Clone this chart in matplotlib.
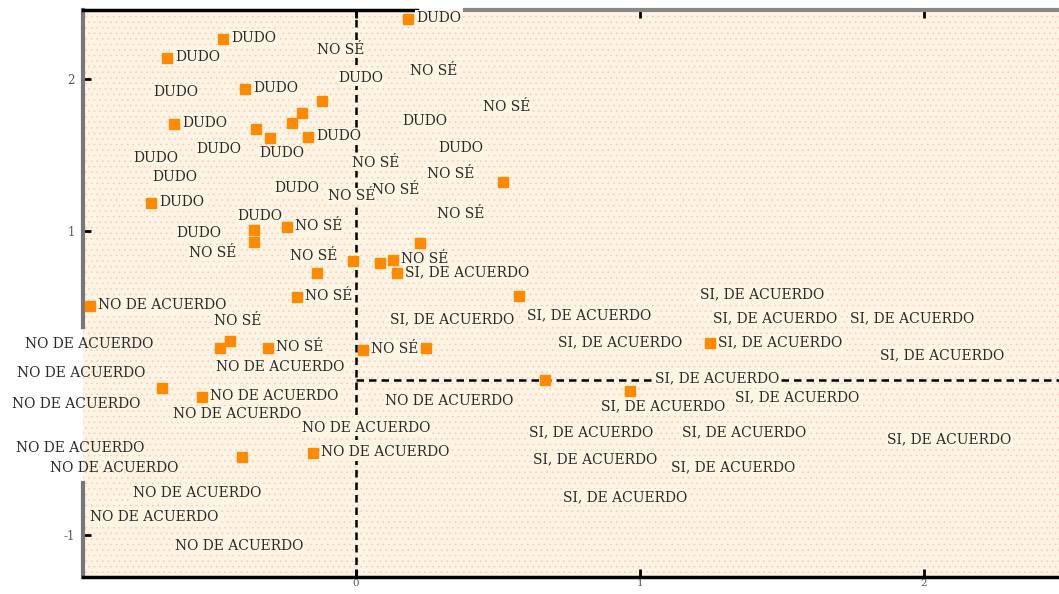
import matplotlib
matplotlib.use("Agg")
import matplotlib.pyplot as plt
from matplotlib.patches import Rectangle

# ---- data: points shown with a marker (x, y, label) ----
mk_x = [0.183, -0.468, -0.665, -0.391, -0.120, -0.190, -0.225, -0.641, -0.352, -0.303,
        -0.169, 0.518, -0.722, -0.359, -0.359, -0.243, 0.225, -0.011, 0.085, 0.130,
        0.144, -0.137, 0.574, -0.208, -0.937, -0.444, -0.479, -0.310, 0.025, 0.246,
        1.246, 0.665, 0.965, -0.683, -0.542, -0.401, -0.151]
mk_y = [2.395, 2.263, 2.138, 1.934, 1.855, 1.776, 1.711, 1.704, 1.671, 1.612,
        1.618, 1.322, 1.184, 1.007, 0.928, 1.026, 0.921, 0.803, 0.789, 0.809,
        0.724, 0.724, 0.572, 0.566, 0.507, 0.276, 0.230, 0.230, 0.217, 0.230,
        0.263, 0.020, -0.053, -0.033, -0.092, -0.487, -0.461]
mk_lab = ["DUDO", "DUDO", "DUDO", "DUDO", "", "", "", "DUDO", "", "",
          "DUDO", "", "DUDO", "", "", "NO SÉ", "", "", "", "NO SÉ",
          "SI, DE ACUERDO", "", "", "NO SÉ", "NO DE ACUERDO", "", "", "NO SÉ", "NO SÉ", "",
          "SI, DE ACUERDO", "", "", "", "NO DE ACUERDO", "", "NO DE ACUERDO"]

# ---- data: labels without a visible marker ----
dudo_x = [-0.715, -0.785, -0.718, -0.563, -0.342, -0.289, -0.063, 0.162, 0.289, -0.419, -0.634]
dudo_y = [1.914, 1.480, 1.355, 1.539, 1.513, 1.283, 2.007, 1.724, 1.546, 1.099, 0.987]

nose_x = [-0.137, 0.190, 0.447, -0.014, 0.250, 0.056, -0.099, 0.285, -0.588, -0.232, -0.500]
nose_y = [2.191, 2.053, 1.816, 1.447, 1.375, 1.270, 1.230, 1.112, 0.855, 0.836, 0.408]

si_x = [0.120, 0.602, 0.711, 1.211, 1.257, 1.739, 1.845, 1.053, 1.335, 0.863,
        0.609, 1.148, 1.870, 0.623, 1.109, 0.729]
si_y = [0.421, 0.447, 0.270, 0.586, 0.428, 0.428, 0.184, 0.033, -0.092, -0.151,
        -0.322, -0.322, -0.368, -0.500, -0.553, -0.750]

node_x = [-1.165, -1.194, -1.211, -0.493, -0.644, -0.190, 0.102, -1.197, -1.077, -0.785,
          -0.937, -0.637]
node_y = [0.257, 0.066, -0.138, 0.105, -0.204, -0.296, -0.118, -0.428, -0.559, -0.724,
          -0.882, -1.072]

yticks = [2, 1, -1]
ytick_labels = ["2", "1", "-1"]
xticks = [0, 1, 2]
xtick_labels = ["0", "1", "2"]

# ---- style ----
BG = "#FEF4E3"
W, H = 1059, 594
fig = plt.figure(figsize=(W / 100, H / 100), dpi=100)
fig.patch.set_facecolor("white")
ax = fig.add_axes([83 / W, 1 - 577 / H, 1 - 83 / W, (577 - 10) / H])
x0, x1 = -0.961, 2.475
y0, y1 = -1.276, 2.454
ax.set_xlim(x0, x1)
ax.set_ylim(y0, y1)
ax.set_facecolor(BG)
plt.rcParams["hatch.linewidth"] = 0.5
ax.add_patch(Rectangle((0, 0), 1, 1, transform=ax.transAxes, facecolor="none",
                       edgecolor="#F7CCC4", hatch="...", lw=0, zorder=0))
for s in ax.spines.values():
    s.set_visible(False)

# reference lines
ax.axvline(0, color="black", lw=1.8, ls=(0, (3, 2)), zorder=2)
ax.plot([0, x1], [0.02, 0.02], color="black", lw=1.8, ls=(0, (3, 2)), zorder=2)

# frame segments
ax.plot([x0, x0], [0.368, y1], color="#777777", lw=3, clip_on=False, zorder=3)
ax.plot([x0, x0], [y0, -0.658], color="#777777", lw=3, clip_on=False, zorder=3)
ax.plot([x0, 0.215], [y1, y1], color="black", lw=2.5, clip_on=False, zorder=3)
ax.plot([0.384, x1], [y1, y1], color="#888888", lw=3, clip_on=False, zorder=3)
ax.plot([x0, x1], [y0, y0], color="black", lw=2.5, clip_on=False, zorder=3)

ax.set_yticks(yticks)
ax.set_yticklabels(ytick_labels, family="DejaVu Serif")
ax.set_xticks(xticks)
ax.set_xticklabels(xtick_labels, family="DejaVu Serif")
ax.tick_params(direction="in", length=6, width=2, color="black", labelcolor="#555555",
               top=True)
ax.tick_params(axis="y", labelsize=8.5, pad=6)
ax.tick_params(axis="x", labelsize=7.5, pad=1.5)

FS = 10
FONT = "DejaVu Serif"
bbox = dict(boxstyle="square,pad=0.1", facecolor=BG, edgecolor="none")

def put(x, y, s):
    ax.text(x, y, s, fontsize=FS, family=FONT, color="#2a2a2a", va="center", ha="left",
            zorder=4, bbox=bbox if x > x0 else None)

for xs, ys, lab in [(dudo_x, dudo_y, "DUDO"), (nose_x, nose_y, "NO SÉ"),
                    (si_x, si_y, "SI, DE ACUERDO"), (node_x, node_y, "NO DE ACUERDO")]:
    for x, y in zip(xs, ys):
        put(x, y, lab)

ax.plot(mk_x, mk_y, ls="none", marker="s", ms=7.5, color="#FF8A00", mec="#FF8A00", zorder=5)
for x, y, s in zip(mk_x, mk_y, mk_lab):
    if s:
        ax.annotate(s, (x, y), xytext=(6, 0.5), textcoords="offset points", fontsize=FS,
                    family=FONT, color="#2a2a2a", va="center", ha="left", zorder=4,
                    bbox=bbox)

fig.savefig("out.png", dpi=100)
